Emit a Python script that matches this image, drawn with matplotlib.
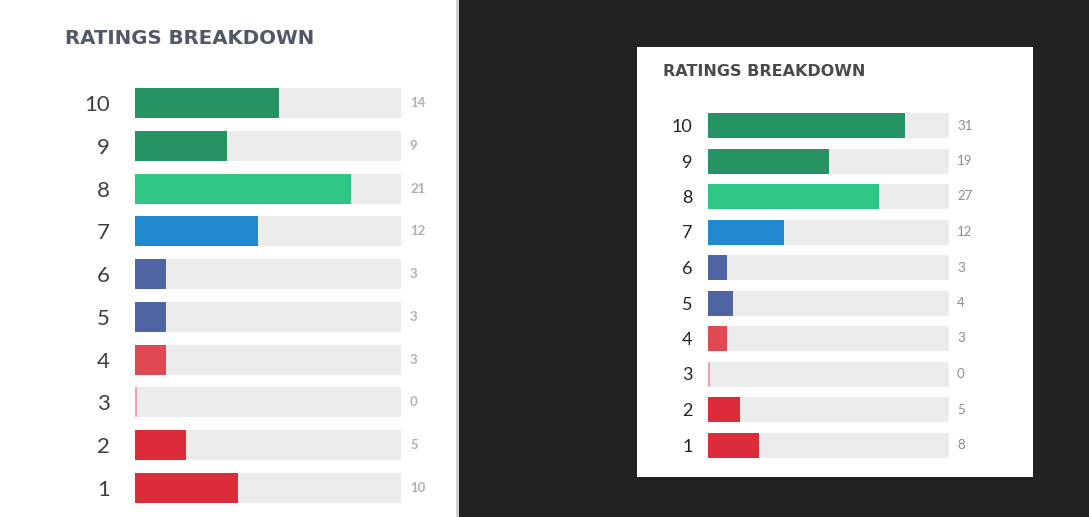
import matplotlib
matplotlib.use("Agg")
import matplotlib.pyplot as plt
from matplotlib.patches import Rectangle

# ---- data ----
ratings = [10, 9, 8, 7, 6, 5, 4, 3, 2, 1]
left_counts = [14, 9, 21, 12, 3, 3, 3, 0, 5, 10]
right_counts = [31, 19, 27, 12, 3, 4, 3, 0, 5, 8]
title = "RATINGS BREAKDOWN"
bar_colors = ["#259462", "#259462", "#2fc584", "#1f88cf", "#4f65a3",
              "#4f65a3", "#e04852", "#f2a3aa", "#dc2c3a", "#dc2c3a"]
left_track_max = 25.9
right_track_max = 38.0

W, H = 1089, 517
fig = plt.figure(figsize=(W / 100, H / 100), dpi=100, facecolor="#222222")


def fx(px):
    return px / W


def fy(py):
    return 1 - py / H


# backgrounds
fig.patches.append(Rectangle((0, 0), fx(457), 1, transform=fig.transFigure,
                             facecolor="white", edgecolor="none", zorder=-10))
fig.patches.append(Rectangle((fx(456), 0), fx(3), 1, transform=fig.transFigure,
                             facecolor="#d0d0d0", edgecolor="none", zorder=-10))
fig.patches.append(Rectangle((fx(637), fy(477)), fx(1033 - 637), (477 - 47) / H,
                             transform=fig.transFigure, facecolor="white",
                             edgecolor="none", zorder=-10))


def panel(x0, x1, y_top_center, y_bot_center, counts, track_max, bar_h_px,
          label_size, label_pad, value_size, value_gap_px, value_color,
          label_color, value_weight):
    step = (y_bot_center - y_top_center) / 9
    top = y_top_center - step / 2
    bot = y_bot_center + step / 2
    ax = fig.add_axes([fx(x0), fy(bot), fx(x1 - x0), (bot - top) / H])
    ax.set_zorder(5)
    ax.set_facecolor("none")
    ax.set_xlim(0, track_max)
    ax.set_ylim(0.5, 10.5)
    h = bar_h_px / step
    px_per_unit = (x1 - x0) / track_max
    ax.barh(ratings, [track_max] * len(ratings), height=h, color="#ececec",
            linewidth=0, zorder=1)
    widths = [c if c > 0 else 2 / px_per_unit for c in counts]
    ax.barh(ratings, widths, height=h, color=bar_colors, linewidth=0, zorder=2)
    ax.set_yticks(ratings)
    ax.set_yticklabels([str(r) for r in ratings], fontsize=label_size,
                       color=label_color, family="Lato")
    ax.tick_params(axis="y", length=0, pad=label_pad)
    ax.set_xticks([])
    for s in ax.spines.values():
        s.set_visible(False)
    for r, c in zip(ratings, counts):
        ax.text(track_max + value_gap_px / px_per_unit, r, str(c),
                fontsize=value_size, color=value_color, va="center",
                ha="left", family="Lato", fontweight=value_weight)
    return ax


panel(135, 401, 103, 488, left_counts, left_track_max, 30,
      16, 18, 9.5, 9, "#b0b0b0", "#3f3f3f", "bold")
panel(708, 949, 125.5, 445, right_counts, right_track_max, 25,
      13, 11, 9.5, 8, "#8c8c8c", "#222222", "normal")

fig.text(fx(65), fy(39), title, fontsize=14.2, fontweight="bold",
         color="#505a66", va="center", ha="left", family="DejaVu Sans")
fig.text(fx(663), fy(72), title, fontsize=11.5, fontweight="bold",
         color="#4a4a4a", va="center", ha="left", family="DejaVu Sans")

fig.savefig("out.png", dpi=100, facecolor=fig.get_facecolor())
